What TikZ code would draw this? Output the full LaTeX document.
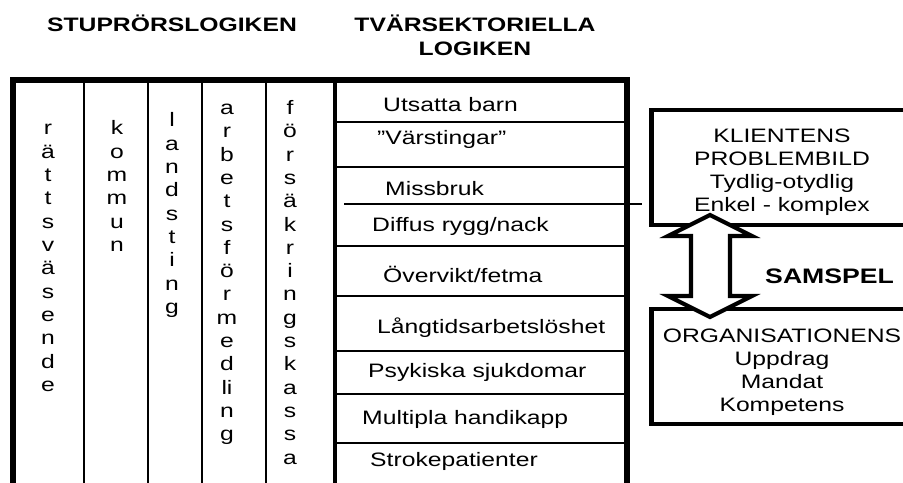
\documentclass[tikz,border=0pt]{standalone}
\usepackage{fontspec}
\setmainfont{Liberation Sans}[FakeStretch=1.27]
\usetikzlibrary{positioning}

\begin{document}
\begin{tikzpicture}[x=0.03cm,y=-0.03cm]
    \tikzstyle{txt}=[font=\fontsize{16.6}{19.6}\selectfont, inner sep=0pt]
    \tikzstyle{letter}=[txt, anchor=base]
    \tikzstyle{row}=[txt, anchor=base west]
    \tikzstyle{title}=[font=\bfseries\fontsize{16.6}{19.6}\selectfont, inner sep=0pt, anchor=base]
    \tikzstyle{frame}=[line width=4.5pt]
    \tikzstyle{grid}=[line width=1pt]
    \tikzstyle{bigbox}=[draw, line width=4pt, minimum width=7.9cm, minimum height=3.45cm]
    \useasboundingbox (0,0) rectangle (903,483);

    % Headings
    \node[title] (stup) at (172,32) {STUPRÖRSLOGIKEN};
    \node[title] (tvar) at (475,32) {TVÄRSEKTORIELLA};
    \node[title] (logik) at (475,56) {LOGIKEN};

    % Outer frame, open at the bottom
    \draw[frame] (13,495) -- (13,80) -- (627,80) -- (627,495);
    \draw[line width=3.5pt] (335,80) -- (335,495);

    % Columns of the sectors
    \foreach \x in {84,148,202,266}
        \draw[grid] (\x,80) -- (\x,495);

    % Vertical sector names
    \foreach \l [count=\i] in {r,ä,t,t,s,v,ä,s,e,n,d,e}
        \node[letter] (rv\i) at (48,{135+(\i-1)*23.3}) {\l};
    \foreach \l [count=\i] in {k,o,m,m,u,n}
        \node[letter] (ko\i) at (117,{135+(\i-1)*23.3}) {\l};
    \foreach \l [count=\i] in {l,a,n,d,s,t,i,n,g}
        \node[letter] (la\i) at (172,{127+(\i-1)*23.3}) {\l};
    \foreach \l [count=\i] in {a,r,b,e,t,s,f,ö,r,m,e,d,li,n,g}
        \node[letter] (ar\i) at (227,{114.5+(\i-1)*23.3}) {\l};
    \foreach \l [count=\i] in {f,ö,r,s,ä,k,r,i,n,g,s,k,a,s,s,a}
        \node[letter] (fo\i) at (290,{114.5+(\i-1)*23.3}) {\l};

    % Rows of the cross-sector column
    \foreach \y in {122,167,246,296,351,394,443}
        \draw[grid] (335,\y) -- (627,\y);
    \draw[grid] (344,204) -- (642,204);

    \node[row] (utsatta) at (383,112) {Utsatta barn};
    \node[row] (varst) at (377,145) {”Värstingar”};
    \node[row] (missbruk) at (385,196) {Missbruk};
    \node[row] (diffus) at (372,232) {Diffus rygg/nack};
    \node[row] (overvikt) at (383,282) {Övervikt/fetma};
    \node[row] (langtid) at (377,333) {Långtidsarbetslöshet};
    \node[row] (psyk) at (368,377) {Psykiska sjukdomar};
    \node[row] (multi) at (362,424) {Multipla handikapp};
    \node[row] (stroke) at (370,466) {Strokepatienter};

    % Boxes on the right
    \node[bigbox] (klient) at (783,167.5) {};
    \node[txt, align=center] (klienttext) at (782,172) {KLIENTENS\\PROBLEMBILD\\Tydlig-otydlig\\Enkel - komplex};
    \node[bigbox] (org) at (783,366.5) {};
    \node[txt, align=center] (orgtext) at (782,372) {ORGANISATIONENS\\Uppdrag\\Mandat\\Kompetens};

    % Double arrow between them
    \draw[line width=3.5pt, fill=white, line join=miter]
        (710,215) -- (752,236) -- (730,236) -- (730,296) -- (752,296)
        -- (710,317) -- (668,296) -- (691,296) -- (691,236) -- (668,236) -- cycle;
    \node[font=\bfseries\fontsize{17.9}{21}\selectfont, inner sep=0pt, anchor=base west] (samspel) at (765,283) {SAMSPEL};
\end{tikzpicture}
\end{document}
